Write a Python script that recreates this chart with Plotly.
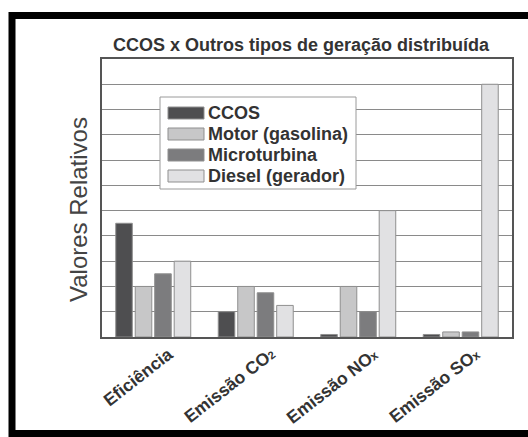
import plotly.graph_objects as go

# Categories along the x axis (small trailing index for chemical formulas)
categories = ["Eficiência",
              "Emissão CO<span style='font-size:11px'>2</span>",
              "Emissão NO<span style='font-size:12px'>x</span>",
              "Emissão SO<span style='font-size:12px'>x</span>"]

# Relative values per generation technology
series_names = ["CCOS", "Motor (gasolina)", "Microturbina", "Diesel (gerador)"]
ccos = [4.5, 1.0, 0.1, 0.1]
motor = [2.0, 2.0, 2.0, 0.2]
microturbina = [2.5, 1.75, 1.0, 0.2]
diesel = [3.0, 1.25, 5.0, 10.0]
series_values = [ccos, motor, microturbina, diesel]
series_colors = ["#4e4e50", "#c7c7c8", "#7c7c7e", "#e1e1e3"]

# Pixel layout helpers (plot area spans x 102..512, y 59..337)
L, R, T, B = 102, 512, 59, 337
W, H = 528, 437


def px(x):
    return (x - L) / (R - L)


def py(y):
    return (B - y) / (B - T)


fig = go.Figure()
for name, vals, col in zip(series_names, series_values, series_colors):
    fig.add_trace(go.Bar(
        x=categories, y=vals, name=name,
        marker=dict(color=col, line=dict(color="#8f8f8f", width=1)),
        showlegend=False,
    ))

font = "Liberation Sans, Arial, Helvetica, sans-serif"
shapes = []
annotations = []

# Outer black frame
shapes.append(dict(type="rect", xref="paper", yref="paper",
                   x0=px(12), x1=px(540), y0=py(15.5), y1=py(433.5),
                   line=dict(color="black", width=7), layer="below"))

# Legend box
shapes.append(dict(type="rect", xref="paper", yref="paper",
                   x0=px(160), x1=px(356), y0=py(189), y1=py(97),
                   fillcolor="white", line=dict(color="#9a9a9a", width=1), layer="above"))
row_centers = [113, 134, 155, 176]
for name, col, yc in zip(series_names, series_colors, row_centers):
    shapes.append(dict(type="rect", xref="paper", yref="paper",
                       x0=px(168), x1=px(204), y0=py(yc + 6), y1=py(yc - 6),
                       fillcolor=col, line=dict(color="#8f8f8f", width=1), layer="above"))
    annotations.append(dict(xref="paper", yref="paper", x=px(206), y=py(yc),
                            xanchor="left", yanchor="middle", showarrow=False,
                            text="<b>%s</b>" % name,
                            font=dict(family=font, size=18, color="#333333")))

# Title
annotations.append(dict(xref="paper", yref="paper", x=px(301.5), y=py(45),
                        xanchor="center", yanchor="middle", showarrow=False,
                        text="<b>CCOS x Outros tipos de geração distribuída</b>",
                        font=dict(family=font, size=18, color="#333333")))

# Y-axis title
annotations.append(dict(xref="paper", yref="paper", x=px(78), y=py(210),
                        xanchor="center", yanchor="middle", showarrow=False,
                        textangle=-90, text="Valores Relativos",
                        font=dict(family=font, size=24, color="#444444")))

# Rotated category labels
for cat in categories:
    annotations.append(dict(xref="x", yref="paper", x=cat, y=py(341),
                            xanchor="right", yanchor="top", xshift=26,
                            showarrow=False, textangle=-38,
                            text="<b>%s</b>" % cat,
                            font=dict(family=font, size=17.5, color="#333333")))

fig.update_layout(
    width=W, height=H,
    margin=dict(l=L, r=W - R, t=T, b=H - B),
    paper_bgcolor="white", plot_bgcolor="white",
    barmode="group", bargap=0.24, bargroupgap=0.15,
    shapes=shapes, annotations=annotations,
    xaxis=dict(range=[-0.5, 3.5], autorange=False,
               showticklabels=False, showgrid=False, zeroline=False,
               showline=True, linecolor="#555555", linewidth=2, mirror=True,
               ticks=""),
    yaxis=dict(range=[0, 11], autorange=False, dtick=1, showticklabels=False,
               showgrid=True, gridcolor="#8a8a8a", gridwidth=1,
               zeroline=False, showline=True, linecolor="#555555",
               linewidth=2, mirror=True, ticks=""),
)

fig.write_html("out.html")
